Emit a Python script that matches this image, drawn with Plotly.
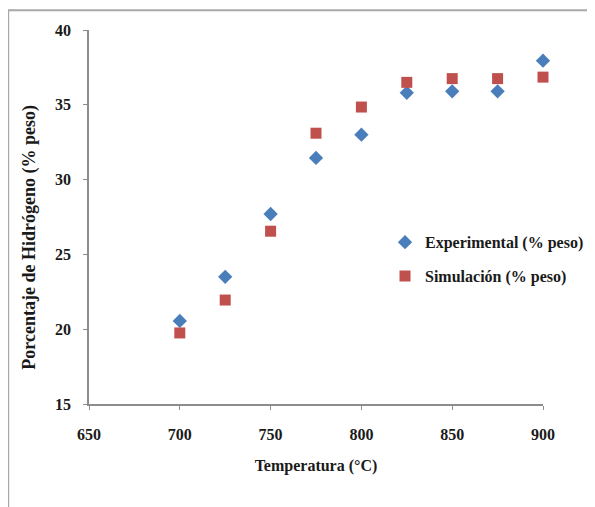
import plotly.graph_objects as go

temperatura = [700, 725, 750, 775, 800, 825, 850, 875, 900]
experimental = [20.55, 23.5, 27.7, 31.45, 33.0, 35.8, 35.9, 35.9, 37.95]
simulacion = [19.75, 21.95, 26.55, 33.1, 34.85, 36.5, 36.75, 36.75, 36.85]

FONT = "Liberation Serif"
TXT = "#1a1a1a"
FS = 16

fig = go.Figure()
fig.add_trace(go.Scatter(
    x=temperatura, y=experimental, mode="markers", name="Experimental (% peso)",
    marker=dict(symbol="diamond", size=11, color="#4A7EBB"), legendgroup="a",
    cliponaxis=False,
))
fig.add_trace(go.Scatter(
    x=temperatura, y=simulacion, mode="markers", name="Simulación (% peso)",
    marker=dict(symbol="square", size=11, color="#C0504D"), legendgroup="b",
    cliponaxis=False,
))

axis_common = dict(
    showline=True, linecolor="#8C8C8C", linewidth=1.5,
    ticks="outside", ticklen=4, tickcolor="#8C8C8C",
    showgrid=False, zeroline=False, automargin=False,
    tickfont=dict(family=FONT, size=FS, color=TXT, weight="bold"),
)

fig.update_layout(
    width=595, height=507,
    margin=dict(l=81, r=60, t=22, b=111),
    paper_bgcolor="white", plot_bgcolor="white",
    font=dict(family=FONT, size=FS, color=TXT),
    xaxis=dict(
        range=[650, 900], tickvals=[650, 700, 750, 800, 850, 900],
        ticklabelstandoff=11,
        title=dict(text="Temperatura (°C)", font=dict(family=FONT, size=FS, weight="bold", color=TXT), standoff=18),
        **axis_common,
    ),
    yaxis=dict(
        range=[15, 40], tickvals=[15, 20, 25, 30, 35, 40],
        ticklabelstandoff=9,
        **axis_common,
    ),
    legend=dict(
        x=0.652, y=0.478, xanchor="left", yanchor="top",
        bgcolor="rgba(0,0,0,0)", font=dict(family=FONT, size=FS, weight="bold", color=TXT),
        tracegroupgap=10, itemwidth=30,
    ),
    annotations=[dict(
        text="Porcentaje de Hidrógeno (% peso)", textangle=-90,
        xref="paper", yref="paper", x=-0.132, y=0.445,
        xanchor="center", yanchor="middle", showarrow=False,
        font=dict(family=FONT, size=18, weight="bold", color=TXT),
    )],
    shapes=[dict(
        type="rect", xref="paper", yref="paper",
        x0=-0.178, x1=1.13, y0=-0.32, y1=1.053,
        line=dict(color="#A8A8A8", width=2), layer="below",
    )],
)

fig.write_html("out.html")
